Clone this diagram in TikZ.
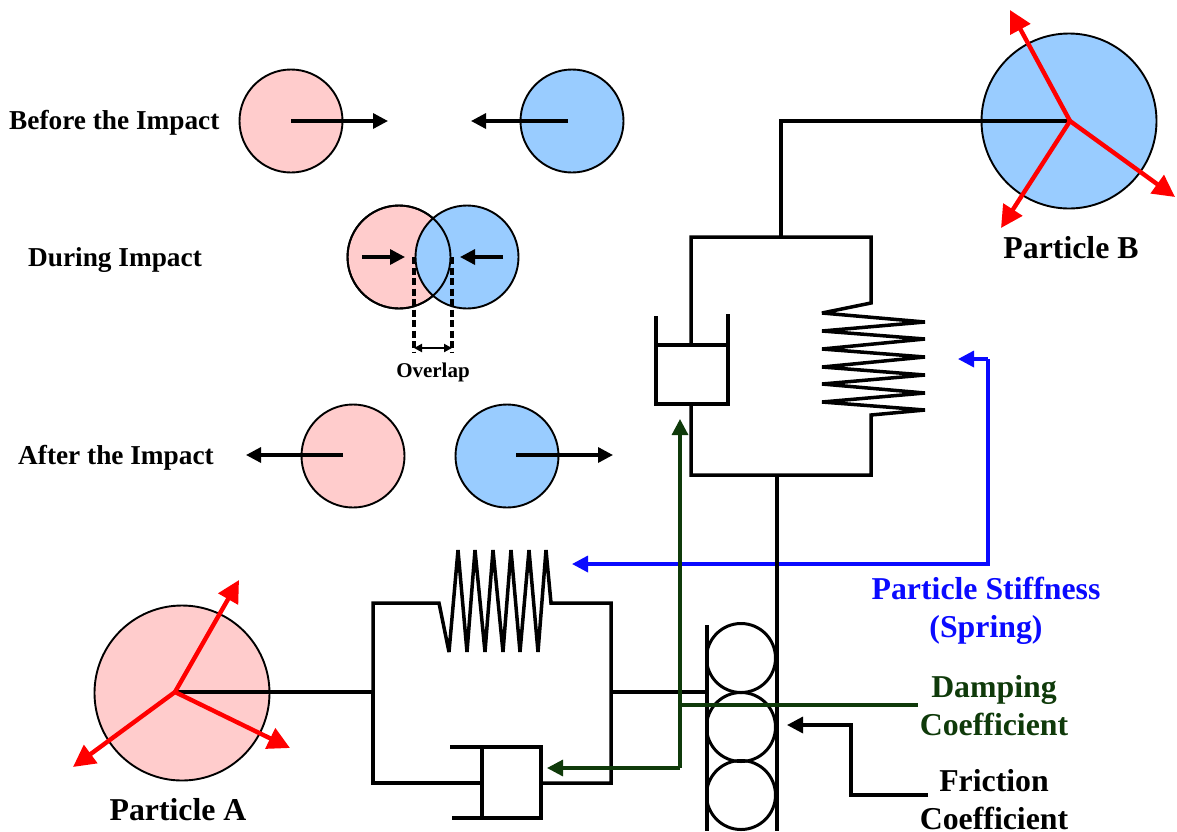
\documentclass[tikz,border=0pt]{standalone}
\usepackage{fontspec}
\setmainfont{Liberation Serif}
\usetikzlibrary{arrows.meta}
\definecolor{ballpink}{HTML}{FFCCCC}
\definecolor{ballblue}{HTML}{99CCFF}
\definecolor{darkgreen}{HTML}{0F3A0A}
\definecolor{stiffblue}{HTML}{0A0AFF}
\tikzset{
  ball/.style={circle,draw=black,line width=1.9pt,minimum size=103pt,inner sep=0pt},
  bigball/.style={ball,minimum size=175pt},
  roller/.style={circle,draw=black,line width=3pt,minimum size=69pt,inner sep=0pt},
  wire/.style={draw=black,line width=3.5pt,miter limit=3},
  motion/.style={draw=black,line width=3.3pt,-{Triangle[length=15pt,width=15pt]}},
  gap/.style={draw=black,line width=3.2pt,dash pattern=on 7pt off 3.5pt},
  redarrow/.style={draw=red,line width=4.4pt,-{Triangle[length=22pt,width=22pt]}},
  bluearrow/.style={draw=stiffblue,line width=3.4pt,-{Triangle[length=16pt,width=16pt]}},
  greenarrow/.style={draw=darkgreen,line width=3.2pt,-{Triangle[length=16pt,width=16pt]}},
  blackarrow/.style={draw=black,line width=3.3pt,-{Triangle[length=16pt,width=16pt]}},
  label/.style={font=\bfseries\fontsize{27.3}{30}\selectfont,inner sep=0pt},
  biglabel/.style={font=\bfseries\fontsize{31.8}{38}\selectfont,align=center,inner sep=0pt}
}
\begin{document}
\begin{tikzpicture}[x=1pt,y=-1pt]
  \useasboundingbox (0,0) rectangle (1177,831);
  % balls
  \node[ball,fill=ballpink] (p1) at (291,121) {};
  \node[ball,fill=ballblue] (b1) at (572,121) {};
  \node[ball,fill=ballpink] (p2) at (399,257) {};
  \node[ball,fill=ballblue] (b2) at (467,257) {};
  \node[ball] (p2ring) at (399,257) {};
  \node[ball,fill=ballpink] (p3) at (353,456) {};
  \node[ball,fill=ballblue] (b3) at (507,456) {};
  \node[bigball,fill=ballpink] (pA) at (182,693) {};
  \node[bigball,fill=ballblue] (pB) at (1069,121) {};
  % labels
  \node[label,anchor=west] (before) at (9,123) {Before the Impact};
  \node[label,anchor=west] (during) at (28,260) {During Impact};
  \node[label,anchor=west] (after) at (18,458) {After the Impact};
  \node[font=\bfseries\fontsize{21}{24}\selectfont,inner sep=0pt] (overlap) at (433,372) {Overlap};
  \node[biglabel] (nameA) at (178,810) {Particle A};
  \node[biglabel] (nameB) at (1071,248) {Particle B};
  \node[biglabel,text=stiffblue] (stiffness) at (986,611) {Particle Stiffness\\(Spring)};
  \node[biglabel,text=darkgreen] (damping) at (994,706) {Damping\\Coefficient};
  \node[biglabel,anchor=south] (friction) at (994,830) {Friction\\Coefficient};
  % motion arrows
  \coordinate (m1) at (388,121);
  \coordinate (m2) at (568,121);
  \coordinate (m3) at (471,121);
  \coordinate (m4) at (362,257);
  \coordinate (m5) at (405,257);
  \coordinate (m6) at (503,257);
  \coordinate (m7) at (460,257);
  \coordinate (m8) at (343,455);
  \coordinate (m9) at (246,455);
  \coordinate (m10) at (516,455);
  \coordinate (m11) at (613,455);
  \draw[motion] (p1.center) to (m1);
  \draw[motion] (m2) to (m3);
  \draw[motion] (m4) to (m5);
  \draw[motion] (m6) to (m7);
  \draw[motion] (m8) to (m9);
  \draw[motion] (m10) to (m11);
  % overlap
  \coordinate (o1) at (414,257);
  \coordinate (o2) at (452,257);
  \coordinate (o3) at (414,352);
  \coordinate (o4) at (452,352);
  \coordinate (o5) at (414,348);
  \coordinate (o6) at (452,348);
  \draw[gap] (o1) to (o3);
  \draw[gap] (o2) to (o4);
  \draw[line width=2.2pt,{Triangle[length=8pt,width=8pt]}-{Triangle[length=8pt,width=8pt]}] (o5) to (o6);
  % blue leader
  \coordinate (s1) at (958,359);
  \coordinate (s2) at (988,359);
  \coordinate (s3) at (988,564);
  \coordinate (s4) at (572,564);
  \draw[bluearrow] (s2) -- (s1);
  \draw[bluearrow] (s2) -- (s3) -- (s4);
  % lower unit
  \coordinate (ra) at (175,692);
  \coordinate (a1) at (373,692);
  \coordinate (a2) at (373,603);
  \coordinate (a3) at (611,603);
  \coordinate (a4) at (611,783);
  \coordinate (a5) at (373,783);
  \coordinate (a6) at (482,783);
  \coordinate (a7) at (541,783);
  \coordinate (a8) at (611,692);
  \coordinate (a9) at (707,692);
  \draw[wire] (ra) -- (a1);
  \draw[wire] (a8) -- (a9);
  \draw[wire] (a1) -- (a2) -- (439,603) -- (449,652) -- (458,550) -- (467,652) -- (475,550)
    -- (485,652) -- (493,550) -- (503,652) -- (511,550) -- (520,652) -- (529,550)
    -- (538,652) -- (546,550) -- (551,603) -- (a3) -- (a4) -- (a7);
  \draw[wire] (a1) -- (a5) -- (a6);
  \draw[wire] (450,747) -- (541,747) -- (541,818) -- (452,818);
  \draw[wire] (482,747) -- (482,818);
  % upper unit
  \coordinate (c1) at (781,121);
  \coordinate (c2) at (781,237);
  \coordinate (c3) at (691,237);
  \coordinate (c4) at (871,237);
  \coordinate (c5) at (691,345);
  \coordinate (c6) at (691,404);
  \coordinate (c7) at (691,475);
  \coordinate (c8) at (871,475);
  \coordinate (c9) at (777,475);
  \coordinate (c10) at (777,831);
  \draw[wire] (pB.center) -- (c1) -- (c2);
  \draw[wire] (c5) -- (c3) -- (c4) -- (871,303) -- (822,313) -- (925,322) -- (822,331)
    -- (925,339) -- (822,349) -- (925,357) -- (822,367) -- (925,375) -- (822,384)
    -- (925,393) -- (822,402) -- (925,410) -- (871,415) -- (c8) -- (c7) -- (c6);
  \draw[wire] (656,316) -- (656,404) -- (728,404) -- (728,314);
  \draw[wire] (656,345) -- (728,345);
  % rollers
  \node[roller] (r1) at (741,658) {};
  \node[roller] (r2) at (741,727) {};
  \node[roller] (r3) at (741,795) {};
  \coordinate (w1) at (707,625);
  \coordinate (w2) at (707,831);
  \draw[wire] (w1) -- (w2);
  \draw[wire] (c9) -- (c10);
  % green leaders
  \coordinate (g1) at (680,419);
  \coordinate (g2) at (680,768);
  \coordinate (g3) at (547,768);
  \coordinate (g4) at (680,705);
  \coordinate (g5) at (918,705);
  \draw[greenarrow] (g2) -- (g1);
  \draw[greenarrow] (g2) -- (g3);
  \draw[draw=darkgreen,line width=3.2pt] (g4) -- (g5);
  % friction leader
  \coordinate (f1) at (928,795);
  \coordinate (f2) at (851,795);
  \coordinate (f3) at (851,725);
  \coordinate (f4) at (787,725);
  \draw[blackarrow] (f1) -- (f2) -- (f3) -- (f4);
  % red axes
  \coordinate (ra1) at (239,580);
  \coordinate (ra2) at (290,748);
  \coordinate (ra3) at (73,767);
  \coordinate (rb) at (1070,121);
  \coordinate (rb1) at (1010,10);
  \coordinate (rb2) at (1175,197);
  \coordinate (rb3) at (1001,228);
  \draw[redarrow] (ra) -- (ra1);
  \draw[redarrow] (ra) -- (ra2);
  \draw[redarrow] (ra) -- (ra3);
  \draw[redarrow] (rb) -- (rb1);
  \draw[redarrow] (rb) -- (rb2);
  \draw[redarrow] (rb) -- (rb3);
\end{tikzpicture}
\end{document}
